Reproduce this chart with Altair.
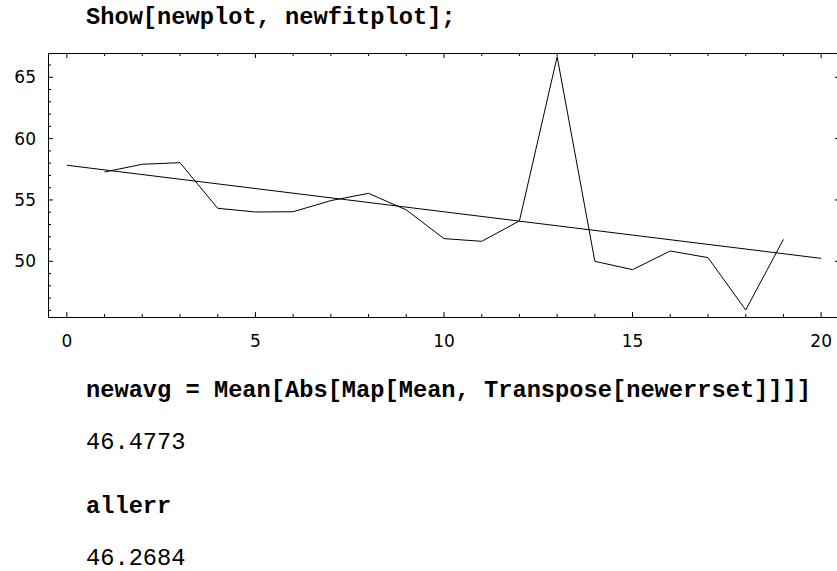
import altair as alt
import pandas as pd

# Data series (newplot) and its straight-line fit (newfitplot)
series_x = list(range(1, 20))
series_y = [57.28, 57.91, 58.04, 54.32, 54.02, 54.04, 54.95, 55.54, 54.19, 51.85,
            51.63, 53.29, 66.68, 50.00, 49.32, 50.84, 50.30, 46.03, 51.79]
fit_x = [0, 20]
fit_y = [57.83, 50.24]

# Frame tick positions and labels
x_major = [0, 5, 10, 15, 20]
x_minor = [v for v in range(0, 21) if v % 5]
y_major = [50, 55, 60, 65]
y_minor = [v for v in range(46, 67) if v % 5]

# Notebook cells around the graphic
input_show = "Show[newplot, newfitplot];"
input_avg = "newavg = Mean[Abs[Map[Mean, Transpose[newerrset]]]]"
output_avg = "46.4773"
input_err = "allerr"
output_err = "46.2684"

W, H = 792, 264
MONO = "Courier New, Liberation Mono, monospace"
CODE_SIZE = 23.7
LABEL_FONT = "DejaVu Sans"
LABEL_SIZE = 17

xs = alt.Scale(domain=[-0.5, 20.5], nice=False, zero=False)
ys = alt.Scale(domain=[45.46, 66.98], nice=False, zero=False)

series_df = pd.DataFrame({"x": series_x, "y": series_y})
fit_df = pd.DataFrame({"x": fit_x, "y": fit_y})

data_line = alt.Chart(series_df).mark_line(color="black", strokeWidth=1).encode(
    x=alt.X("x:Q", scale=xs, axis=None),
    y=alt.Y("y:Q", scale=ys, axis=None),
)

fit_line = alt.Chart(fit_df).mark_line(color="black", strokeWidth=1).encode(
    x=alt.X("x:Q", scale=xs, axis=None),
    y=alt.Y("y:Q", scale=ys, axis=None),
)


def xticks(values, length, top):
    df = pd.DataFrame({"v": values})
    y0, y1 = (0, length) if top else (H, H - length)
    return alt.Chart(df).mark_rule(color="black", strokeWidth=1).encode(
        x=alt.X("v:Q", scale=xs, axis=None),
        y=alt.value(y0), y2=alt.value(y1),
    )


def yticks(values, length, right):
    df = pd.DataFrame({"v": values})
    x0, x1 = (W, W - length) if right else (0, length)
    return alt.Chart(df).mark_rule(color="black", strokeWidth=1).encode(
        y=alt.Y("v:Q", scale=ys, axis=None),
        x=alt.value(x0), x2=alt.value(x1),
    )


tick_layers = [
    xticks(x_major, 5, False), xticks(x_minor, 3, False),
    xticks(x_major, 5, True), xticks(x_minor, 3, True),
    yticks(y_major, 5, False), yticks(y_minor, 3, False),
    yticks(y_major, 5, True), yticks(y_minor, 3, True),
]

# Tick labels along the bottom and left frame edges
x_labels = alt.Chart(pd.DataFrame({"v": x_major})).mark_text(
    align="center", baseline="alphabetic", font=LABEL_FONT, fontSize=LABEL_SIZE, color="black",
).encode(
    x=alt.X("v:Q", scale=xs, axis=None), y=alt.value(H + 30), text=alt.Text("v:Q", format="d"),
)
y_labels = alt.Chart(pd.DataFrame({"v": y_major})).mark_text(
    align="right", baseline="alphabetic", dy=6, font=LABEL_FONT, fontSize=LABEL_SIZE, color="black",
).encode(
    y=alt.Y("v:Q", scale=ys, axis=None), x=alt.value(-12), text=alt.Text("v:Q", format="d"),
)


def cell(text, y, bold):
    return alt.Chart(pd.DataFrame({"t": [text]})).mark_text(
        align="left", baseline="alphabetic", font=MONO, fontSize=CODE_SIZE,
        fontWeight="bold" if bold else "normal", color="black",
    ).encode(text="t:N", x=alt.value(38), y=alt.value(y))


text_layers = [
    cell(input_show, -29, True),
    cell(input_avg, 344, True),
    cell(output_avg, 396, False),
    cell(input_err, 460, True),
    cell(output_err, 512, False),
]

chart = alt.layer(
    data_line, fit_line, *tick_layers, x_labels, y_labels, *text_layers
).properties(
    width=W, height=H,
    background="white",
    autosize=alt.AutoSizeParams(type="none"),
    padding={"left": 48, "top": 53, "right": -3, "bottom": 254},
).configure_view(
    stroke="black", strokeWidth=1,
)

chart.save("out.html", embed_options={"renderer": "svg", "actions": False})
